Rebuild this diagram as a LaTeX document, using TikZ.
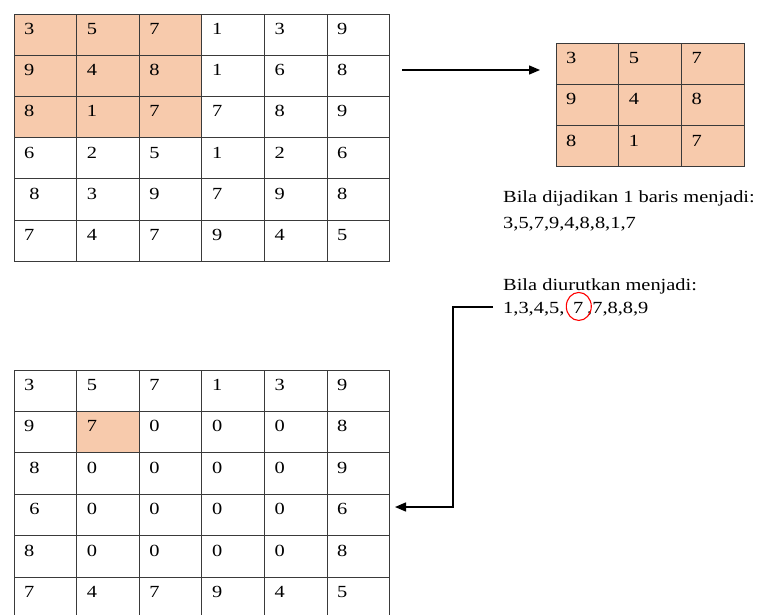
\documentclass[tikz,border=0pt]{standalone}
\usepackage{fontspec}
\setmainfont{Liberation Serif}[FakeStretch=1.2]
\usetikzlibrary{arrows.meta,shapes.geometric}
\definecolor{peach}{HTML}{F7CAAC}
\definecolor{gridline}{HTML}{3A3A3A}
\tikzset{
  cell/.style={draw=gridline, line width=0.9pt, minimum width=62.6pt, minimum height=#1, inner sep=0pt, outer sep=0pt, anchor=north west},
  cell/.default=41.3pt,
  num/.style={font=\fontsize{17}{20}\selectfont, anchor=base west, inner sep=0pt},
  txt/.style={font=\fontsize{17}{20}\selectfont, anchor=base west, inner sep=0pt},
  conn/.style={line width=1.4pt, -{Triangle[length=11pt,width=9pt]}},
  mark7/.style={draw=red, line width=1.1pt, ellipse, minimum width=25pt, minimum height=28pt, inner sep=0pt},
}
\begin{document}
\begin{tikzpicture}[x=1pt,y=-1pt]
\useasboundingbox (0,0) rectangle (766,614);
\clip (0,0) rectangle (766,614);
% top-left grid
\foreach \row [count=\r from 0] in {{3,5,7,1,3,9},{9,4,8,1,6,8},{8,1,7,7,8,9},{6,2,5,1,2,6},{\ 8,3,9,7,9,8},{7,4,7,9,4,5}}{
  \foreach \v [count=\c from 0] in \row {
    \ifnum\r<3 \ifnum\c<3 \def\cf{peach}\else\def\cf{white}\fi\else\def\cf{white}\fi
    \node[cell=41.2pt, fill=\cf] (A-\r-\c) at (14+62.6*\c, 14+41.2*\r) {};
    \node[num] (nA-\r-\c) at (24+62.6*\c, 34.5+41.2*\r) {\v};
  }
}
% small grid
\foreach \row [count=\r from 0] in {{3,5,7},{9,4,8},{8,1,7}}{
  \foreach \v [count=\c from 0] in \row {
    \node[cell=41.3pt, fill=peach, minimum width=62.7pt] (B-\r-\c) at (556+62.7*\c, 43+41.3*\r) {};
    \node[num] (nB-\r-\c) at (566+62.7*\c, 63.5+41.3*\r) {\v};
  }
}
% bottom grid
\foreach \row [count=\r from 0] in {{3,5,7,1,3,9},{9,7,0,0,0,8},{\ 8,0,0,0,0,9},{\ 6,0,0,0,0,6},{8,0,0,0,0,8},{7,4,7,9,4,5}}{
  \foreach \v [count=\c from 0] in \row {
    \ifnum\r=1 \ifnum\c=1 \def\cf{peach}\else\def\cf{white}\fi\else\def\cf{white}\fi
    \node[cell=41.4pt, fill=\cf] (C-\r-\c) at (14+62.6*\c, 370+41.4*\r) {};
    \node[num] (nC-\r-\c) at (24+62.6*\c, 390.5+41.4*\r) {\v};
  }
}
% texts
\node[txt] (t1) at (503,202) {Bila dijadikan 1 baris menjadi:};
\node[txt] (t2) at (503,228) {3,5,7,9,4,8,8,1,7};
\node[txt] (t3) at (503,290) {Bila diurutkan menjadi:};
\node[txt] (t4a) at (503,313) {1,3,4,5,};
\node[txt] (t4b) at (573,313) {7};
\node[txt] (t4c) at (587,313) {,7,8,8,9};
\node[mark7] (c7) at ([xshift=0.5pt,yshift=1pt]t4b.center) {};
% connectors
\coordinate (p1) at (402,70);
\coordinate (p2) at (540,70);
\draw[conn] (p1) -- (p2);
\coordinate (q1) at (493,307);
\coordinate (q2) at (453,307);
\coordinate (q3) at (395,507);
\draw[conn] (q1) -- (q2) |- (q3);
\end{tikzpicture}
\end{document}
